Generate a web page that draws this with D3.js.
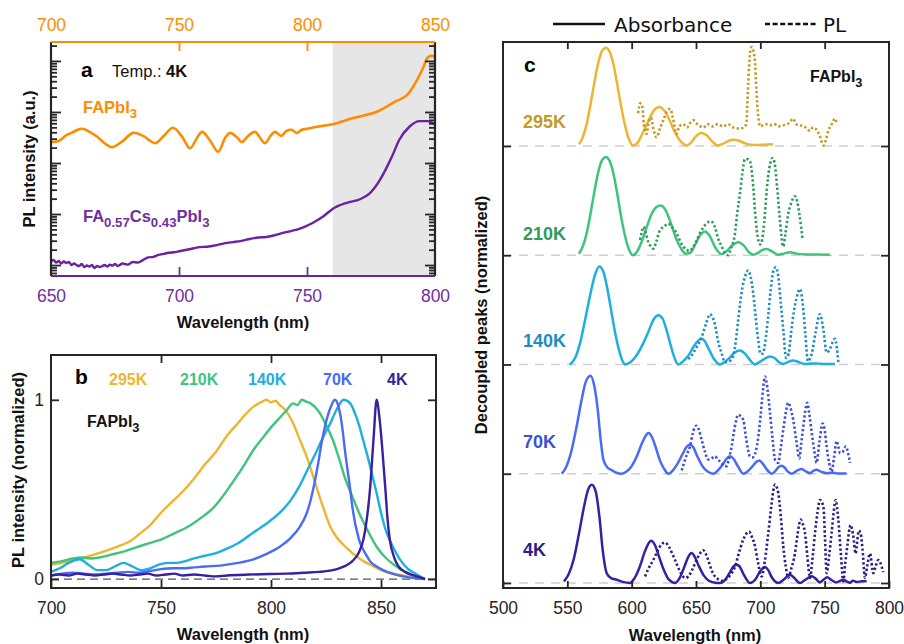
<!DOCTYPE html>
<html>
<head>
<meta charset="utf-8">
<script src="https://cdn.jsdelivr.net/npm/d3@7"></script>
<style>
body { margin: 0; background: #fff; }
svg { font-family: "Liberation Sans", Arial, sans-serif; }
</style>
</head>
<body>
<div id="main"></div>
<script>
// ---------- panel a : PL at 4K, log scale, [wavelength nm, intensity a.u.]
// FAPbI3 is plotted against the top axis (700-850 nm)
const faPL = [[700,257],[703,269],[706,350],[708,389],[712,468],[717,355],[722,224],[724,204],[728,269],[732,389],[736,339],
  [740.6,245],[744,339],[747.6,490],[751,339],[754.3,195],[757,309],[759,407],[762,282],[765.3,166],[768,309],[770,389],
  [772.5,324],[774.6,257],[777,339],[779.7,407],[782,295],[783.6,245],[786,355],[787.5,407],[790,339],[792,427],[794,447],
  [796,389],[798,447],[800,468],[804,513],[810,575],[818,759],[827,1000],[833.6,1514],[839,2138],[843,4266],[845.5,7586],
  [847,11482],[849,12589],[850,11482]];
// FA0.57Cs0.43PbI3 is plotted against the bottom axis (650-800 nm)
const facsPL = [[650,1.15],[651,1.26],[652,1.12],[653,1.2],[654,1.07],[655,1.17],[656,1.1],[657,1.15],[658,1],[659,1.07],
  [660,1],[661,0.955],[662,1.05],[663,0.912],[664,0.977],[665,0.933],[666,1],[667,0.871],[668,0.955],[669,0.912],[670,0.955],
  [671,1],[672,0.933],[673,1.02],[674,0.977],[675,1.05],[676,0.955],[678,1.07],[680,1.02],[682,1.15],[684,1.12],[686,1.26],
  [688,1.41],[690,1.45],[692,1.58],[694,1.66],[696,1.74],[698,1.78],[700,1.86],[702,1.95],[704,2.04],[708,2.24],[711,2.29],
  [714.8,2.45],[718,2.69],[721,2.82],[724,2.95],[727.7,3.24],[731,3.47],[734,3.55],[737,3.8],[740.6,4.27],[744,4.68],
  [747,5.13],[752,6.61],[756,8.71],[760,12.6],[765.6,16.6],[770.7,19.5],[774.6,25.7],[778.5,46.8],[781,79.4],[783.5,145],
  [786,282],[790,513],[794,661],[797,661],[800,575]];
const ticksAbottom = [650, 700, 750, 800];
const ticksAtop = [700, 750, 800, 850];

// ---------- panel b : normalized PL, [wavelength nm, intensity]
const plB295 = [[700,0.08],[705,0.09],[710,0.105],[715,0.12],[722,0.146],[730,0.18],[737,0.22],[740,0.25],[745,0.3],[750,0.37],
  [755,0.43],[760,0.49],[765,0.56],[770,0.64],[775,0.71],[780,0.8],[785,0.87],[790,0.94],[793,0.97],[796,0.99],[798,1.0],
  [800,0.985],[802,0.995],[804,0.97],[806,0.95],[810,0.87],[813,0.78],[816,0.69],[819,0.58],[821,0.5],[824,0.39],[827,0.29],
  [830,0.23],[833,0.19],[837,0.145],[842,0.1],[846,0.075],[850,0.05],[856,0.03],[862,0.015],[870,0]];
const plB210 = [[700,0.09],[705,0.1],[710,0.115],[714,0.12],[718,0.115],[722,0.12],[727,0.135],[732,0.15],[737,0.17],[742,0.19],
  [746,0.205],[750,0.22],[756,0.255],[762,0.29],[768,0.34],[774,0.4],[778,0.46],[782,0.53],[787,0.62],[792,0.72],[797,0.8],
  [801,0.86],[804,0.9],[807,0.94],[810,0.98],[812,0.97],[814,1.0],[816,0.99],[818,0.98],[822,0.93],[825,0.86],[828,0.78],
  [831,0.67],[834,0.55],[837,0.46],[840,0.37],[844,0.27],[848,0.18],[852,0.12],[857,0.07],[864,0.02],[870,0]];
const plB140 = [[700,0.04],[704,0.06],[708,0.09],[713,0.11],[717,0.08],[721,0.05],[725,0.05],[729,0.07],[733,0.09],[737,0.07],
  [741,0.05],[745,0.06],[749,0.08],[753,0.09],[757,0.09],[761,0.1],[765,0.115],[770,0.13],[775,0.145],[780,0.17],[785,0.2],
  [792,0.26],[798,0.31],[804,0.37],[809,0.44],[813,0.52],[817,0.62],[821,0.72],[824,0.8],[827,0.87],[830,0.95],[833,1.0],
  [836,0.98],[838,0.93],[840,0.86],[842,0.77],[844,0.68],[846,0.58],[848,0.48],[850,0.37],[852.5,0.26],[855,0.19],
  [858.6,0.11],[862,0.06],[865,0.035],[870,0]];
const plB70 = [[700,0.02],[705,0.03],[710,0.035],[715,0.03],[720,0.025],[725,0.03],[730,0.035],[735,0.04],[740,0.035],
  [745,0.045],[750,0.055],[755,0.06],[760,0.06],[765,0.065],[770,0.07],[777,0.075],[785,0.09],[792,0.11],[798,0.14],
  [804,0.18],[809,0.23],[813,0.29],[816,0.36],[818,0.44],[820,0.55],[821.5,0.65],[823,0.76],[824.5,0.85],[826,0.92],
  [827.5,0.97],[829,1.0],[830.5,0.97],[832,0.88],[834,0.68],[836,0.5],[837,0.4],[840,0.22],[843,0.14],[845,0.1],[848,0.07],
  [851,0.05],[855,0.03],[860,0.015],[870,0]];
const plB4 = [[700,0.02],[704,0.025],[708,0.02],[712,0.03],[716,0.025],[720,0.02],[724,0.025],[728,0.03],[732,0.025],
  [736,0.02],[740,0.025],[744,0.03],[748,0.02],[752,0.025],[756,0.03],[760,0.02],[765,0.025],[770,0.02],[775,0.015],
  [780,0.02],[790,0.025],[800,0.028],[807,0.03],[815,0.035],[822,0.04],[828,0.05],[831,0.06],[834,0.075],[837,0.1],
  [840,0.15],[842,0.22],[843.5,0.33],[845,0.5],[846.6,0.78],[848,1.0],[849.3,0.9],[850.5,0.74],[852,0.5],[853,0.33],
  [854,0.22],[856,0.12],[858,0.07],[861,0.04],[865,0.02],[870,0]];
const tempsB = ['295K', '210K', '140K', '70K', '4K'];
const ticksBx = [700, 750, 800, 850];
const ticksBy = [0, 1];

// ---------- panel c : decoupled peaks, [wavelength nm, height above own baseline]
const abs295 = [[559,0.015],[562,0.08],[565,0.2],[568,0.38],[571,0.58],[574,0.76],[577,0.87],[580,0.9],[583,0.86],[586,0.74],
  [589,0.55],[592,0.35],[595,0.18],[598,0.06],[601,0.005],[604,0.02],[607,0.08],[611,0.18],[615,0.28],[618,0.335],
  [621.5,0.357],[625,0.33],[629,0.25],[633,0.14],[637,0.06],[640,0.02],[643,0.005],[646,0.03],[650,0.09],[654,0.12],
  [658,0.1],[662,0.05],[667,0.005],[671,0.02],[675,0.045],[679,0.058],[683,0.05],[687,0.03],[691,0.015],[697,0.01],
  [703,0.012],[710,0.015]];
const pl295 = [[605,0.3],[606.5,0.39],[608,0.38],[609.5,0.2],[611.5,0.11],[613,0.2],[615,0.26],[617,0.15],[619.4,0.08],
  [622,0.16],[625,0.25],[627.5,0.32],[630,0.34],[632,0.26],[635,0.11],[637,0.18],[640,0.2],[643,0.17],[646,0.22],[648,0.235],
  [651,0.2],[655.7,0.17],[659,0.2],[663,0.18],[667,0.2],[671,0.18],[675,0.2],[679,0.17],[684,0.16],[687,0.17],[689,0.2],
  [690.6,0.57],[692,0.85],[693.2,0.906],[695.8,0.78],[697,0.5],[698.4,0.265],[700,0.18],[704,0.2],[707.5,0.19],[711,0.2],
  [714,0.18],[717.8,0.19],[721,0.2],[723,0.22],[725.6,0.25],[728,0.2],[730.8,0.19],[734,0.18],[738.5,0.14],[741,0.17],
  [743.7,0.15],[746,0.1],[749,0.005],[751,0.06],[752.8,0.14],[755,0.19],[758,0.25],[759.5,0.2]];
const abs210 = [[559,0.012],[562,0.08],[565,0.2],[568,0.38],[571,0.58],[574,0.76],[577,0.87],[580,0.9],[583,0.86],[586,0.74],
  [589,0.55],[592,0.34],[595,0.17],[598,0.05],[601,0],[604,0.03],[608,0.13],[612,0.27],[616,0.39],[619,0.44],[622.5,0.455],
  [626,0.42],[630,0.31],[634,0.17],[638,0.07],[642,0.015],[645.3,0.02],[649,0.09],[653,0.18],[657,0.217],[661,0.17],
  [665,0.07],[670,0.01],[674,0.04],[678,0.09],[683,0.12],[687,0.09],[691,0.03],[694.5,0.005],[698,0.02],[701,0.045],
  [705,0.058],[709,0.035],[714,0.005],[718,0.015],[723,0.027],[728,0.015],[735,0.008],[745,0.006],[754,0.005]];
const pl210 = [[606.5,0.14],[608,0.22],[609,0.26],[611,0.2],[613,0.12],[615,0.08],[617,0.06],[619,0.12],[622,0.23],[625,0.26],
  [628.5,0.29],[631,0.26],[635,0.2],[638,0.12],[642.7,0.05],[645.3,0.04],[648,0.08],[650,0.12],[653,0.2],[656,0.26],[659,0.3],
  [660.8,0.31],[663,0.3],[664.7,0.26],[667,0.16],[670,0.08],[672,0.03],[675,0],[677,0.06],[680.3,0.2],[682,0.38],[684.2,0.57],
  [686,0.75],[688,0.88],[690,0.88],[692,0.86],[693.5,0.75],[694.5,0.63],[696,0.38],[698.4,0.14],[700,0.1],[701.5,0.15],
  [703,0.3],[705,0.6],[707,0.8],[709.5,0.89],[711,0.85],[713,0.63],[715,0.35],[717.8,0.08],[719.5,0.2],[721.7,0.38],
  [724,0.48],[726.9,0.54],[728.5,0.5],[730.3,0.38],[732.9,0.14]];
const abs140 = [[552,0],[556,0.06],[560,0.2],[564,0.42],[568,0.65],[571,0.8],[574.8,0.897],[578,0.85],[581,0.7],[584,0.5],
  [587,0.3],[590,0.14],[593,0.03],[595,0],[599,0.02],[603,0.07],[608,0.17],[613,0.3],[617,0.41],[620.7,0.45],[624,0.42],
  [627,0.32],[630,0.19],[633,0.07],[636.2,0],[640,0.03],[644,0.08],[648,0.16],[651,0.21],[654.4,0.235],[657,0.21],[660,0.14],
  [664,0.05],[668.6,0],[672,0.02],[676,0.06],[680,0.11],[684.2,0.128],[688,0.1],[692,0.04],[695.8,0],[699,0.02],[703,0.05],
  [707.5,0.073],[711,0.06],[714,0.025],[717.8,0.005],[721,0.02],[725.6,0.037],[729,0.025],[734.7,0.005],[740,0.01],
  [745,0.008],[750,0.005],[758,0.005]];
const pl140 = [[644,0.05],[647,0.09],[650,0.15],[654.4,0.25],[658,0.38],[660.8,0.46],[662.5,0.44],[664.7,0.37],[667,0.22],
  [670,0.1],[672.5,0.02],[676,0.03],[679,0.08],[681,0.22],[683,0.43],[686,0.7],[688,0.8],[690.5,0.86],[692.5,0.8],[694.5,0.65],
  [696.5,0.42],[698.4,0.22],[700,0.1],[702,0.1],[704,0.22],[706,0.43],[708,0.68],[710,0.85],[712,0.89],[714,0.8],[716,0.55],
  [718,0.3],[720,0.06],[722,0.1],[724,0.3],[726,0.48],[728,0.6],[730.8,0.69],[733,0.55],[735,0.28],[737,0.03],[740,0.1],
  [743,0.3],[746.3,0.46],[749,0.32],[751.5,0.11],[754,0.14],[756,0.2],[758,0.235],[759.5,0.15],[760.6,0.02]];
const abs70 = [[545.6,0],[549,0.06],[553,0.2],[557,0.42],[561,0.67],[564,0.83],[568,0.897],[571,0.8],[573.5,0.6],[576,0.3],
  [578,0.13],[581,0.06],[585,0.03],[588,0.01],[592.2,0],[596,0.02],[600,0.07],[604,0.16],[608,0.28],[610.5,0.34],[613,0.372],
  [616,0.33],[619,0.23],[622,0.12],[625,0.05],[628.5,0],[632,0.03],[636,0.1],[640,0.19],[643,0.25],[645.3,0.265],[648,0.24],
  [651,0.16],[655,0.07],[659,0.02],[663.4,0],[667,0.03],[671,0.09],[674,0.14],[676.4,0.16],[679,0.14],[682,0.08],[686.8,0],
  [690,0.02],[694,0.07],[697,0.11],[699.2,0.122],[702,0.09],[705,0.04],[708.8,0],[712,0.03],[714,0.06],[716.5,0.073],
  [719,0.055],[721,0.025],[724.3,0],[728,0.025],[732,0.043],[735,0.025],[738.6,0.005],[741,0.025],[743.7,0.037],[747,0.02],
  [751.5,0.005],[755,0.01],[760,0.003],[767,0.003]];
const pl70 = [[638.9,0.03],[640.2,0.08],[643,0.18],[645.3,0.25],[647.5,0.37],[649.2,0.43],[650.5,0.44],[652,0.41],[654.4,0.31],
  [657,0.2],[659.5,0.13],[662,0.14],[664.7,0.16],[667,0.13],[669.9,0.1],[672,0.07],[673.8,0.07],[675.5,0.13],[677.7,0.25],
  [680,0.42],[682.9,0.54],[684.5,0.53],[686.8,0.49],[689,0.32],[691.9,0.16],[694,0.15],[695.8,0.18],[698,0.3],[700.2,0.53],
  [702,0.76],[703.6,0.89],[705.5,0.78],[707.5,0.56],[709.5,0.32],[711.4,0.13],[714,0.1],[716,0.25],[717.8,0.4],[719.8,0.56],
  [721.7,0.65],[723.5,0.6],[725.6,0.49],[728,0.3],[730.3,0.14],[731.8,0.28],[733.4,0.43],[735,0.58],[736.5,0.65],[738,0.55],
  [739.9,0.38],[741.8,0.22],[743.7,0.1],[746,0.3],[748.4,0.46],[750,0.4],[751.5,0.25],[753.5,0.1],[755.4,0.02],[757.3,0.15],
  [759.3,0.3],[760.6,0.25],[761.9,0.19],[764,0.2],[766.5,0.25],[768,0.2],[769.7,0.1]];
const abs4 = [[547.4,0.015],[551,0.08],[555,0.22],[559,0.45],[563,0.7],[566,0.85],[569,0.9],[572,0.84],[575,0.6],[577.5,0.3],
  [580.6,0.09],[584,0.045],[588.3,0.03],[593,0.01],[598.7,0],[602,0.04],[606,0.14],[610,0.28],[613,0.36],[615,0.387],
  [618,0.35],[621,0.25],[625,0.12],[629,0.03],[633.7,0],[637,0.04],[641,0.15],[644,0.24],[646.6,0.275],[649,0.24],[652,0.16],
  [656,0.07],[660,0.02],[664,0.005],[668.6,0],[672,0.02],[676,0.09],[679,0.15],[681.6,0.168],[684,0.15],[687,0.08],[692,0],
  [696,0.03],[700,0.11],[703.6,0.146],[706,0.12],[709,0.05],[714,0],[718,0.03],[723,0.076],[726,0.05],[730.8,0],[735,0.03],
  [739.9,0.061],[743,0.04],[746.3,0.005],[749,0.03],[752,0.052],[755,0.03],[759.3,0.005],[762,0.02],[764.5,0.03],[767,0.015],
  [769.7,0.003],[772,0.02],[775,0.01],[779,0.015],[782.6,0.015]];
const pl4 = [[610.4,0.06],[613,0.13],[616.8,0.21],[620,0.29],[623,0.35],[625.9,0.37],[629,0.33],[631.5,0.27],[633.7,0.21],
  [637,0.12],[641.5,0.046],[644,0.06],[647,0.12],[650,0.2],[653,0.27],[655.7,0.3],[657.5,0.27],[659.5,0.21],[662,0.12],
  [664.7,0.06],[668,0.03],[671,0.02],[674,0.04],[677,0.08],[680.3,0.15],[683,0.26],[686.8,0.4],[689,0.45],[691.4,0.47],
  [693.5,0.42],[695.8,0.34],[698,0.2],[701,0.06],[703.5,0.2],[706.2,0.46],[708.5,0.7],[710,0.84],[711.4,0.9],[712.7,0.88],
  [714,0.82],[716,0.6],[717.8,0.34],[719.8,0.15],[721.7,0.046],[724,0.13],[726.9,0.27],[729,0.45],[731.3,0.58],[733,0.54],
  [734.7,0.46],[736.5,0.25],[738.6,0.046],[740.5,0.22],[742.5,0.46],[744.5,0.65],[746.3,0.76],[749,0.7],[750.3,0.4],
  [751.5,0.09],[753.5,0.25],[755.4,0.46],[757,0.65],[758.5,0.76],[760.6,0.58],[762.5,0.28],[764.5,0.015],[766,0.18],
  [767.6,0.34],[770.1,0.53],[772,0.45],[774.1,0.27],[775,0.35],[776.5,0.48],[778,0.45],[779.5,0.3],[781.3,0.046],[783,0.15],
  [785.2,0.27],[787.8,0.09],[789.5,0.15],[791.7,0.21],[794.3,0.15],[795.5,0.1]];
const tempsC = ['4K', '70K', '140K', '210K', '295K'];   // bottom to top
const ticksCx = [500, 550, 600, 650, 700, 750, 800];

// ---------- colours
const colB = {'295K': '#EDB532', '210K': '#3EC47C', '140K': '#1EAEE0', '70K': '#4A6AF7', '4K': '#3A1FA0'};
const colPL = {'295K': '#C59A22', '210K': '#2F9A5C', '140K': '#1D8DC0', '70K': '#3A50D5', '4K': '#2E1C86'};
const orange = '#FF8C00', purple = '#6B21A0', axisCol = '#262626';

const svg = d3.select('#main').append('svg').attr('width', 904).attr('height', 644);

function styleAxis(g, color, size) {
  g.select('.domain').remove();
  g.selectAll('.tick line').attr('stroke', color).attr('stroke-width', 1.8);
  g.selectAll('.tick text').attr('fill', color).attr('font-size', size)
    .attr('font-family', '"Liberation Sans", Arial, sans-serif');
}

// bold label with subscripts; parts = [[text, isSub], ...]
function chem(x, y, parts, size, color) {
  const t = svg.append('text').attr('x', x).attr('y', y).attr('font-size', size)
    .attr('font-weight', 'bold').attr('fill', color);
  let prev = 0;
  parts.forEach(p => {
    const off = p[1] ? size * 0.32 : 0;
    t.append('tspan').attr('dy', off - prev).attr('font-size', p[1] ? size * 0.8 : size).text(p[0]);
    prev = off;
  });
  return t;
}

function frame(x0, y0, x1, y1, color) {
  svg.append('rect').attr('x', x0).attr('y', y0).attr('width', x1 - x0).attr('height', y1 - y0)
    .attr('fill', 'none').attr('stroke', color).attr('stroke-width', 2);
}

// =================== panel a ===================
const xA = d3.scaleLinear().domain([650, 800]).range([51, 435]);
const xAtop = d3.scaleLinear().domain([700, 850]).range([51, 435]);
const yA = d3.scaleLog().domain([0.61, 23500]).range([276, 42]);

svg.append('rect').attr('x', xA(760)).attr('y', 42).attr('width', xA(800) - xA(760)).attr('height', 234).attr('fill', '#E6E6E6');

svg.append('path').datum(faPL).attr('fill', 'none').attr('stroke', orange).attr('stroke-width', 2.6)
  .attr('d', d3.line().x(d => xAtop(d[0])).y(d => yA(d[1])).curve(d3.curveCatmullRom));
svg.append('path').datum(facsPL).attr('fill', 'none').attr('stroke', purple).attr('stroke-width', 2.4)
  .attr('d', d3.line().x(d => xA(d[0])).y(d => yA(d[1])).curve(d3.curveMonotoneX));

const logTicks = yA.ticks();
const decades = logTicks.filter(v => Math.abs(Math.log10(v) - Math.round(Math.log10(v))) < 1e-9);
const minors = logTicks.filter(v => !decades.includes(v));
[[decades, 10], [minors, 6]].forEach(([vals, len]) => {
  styleAxis(svg.append('g').attr('transform', 'translate(51,0)')
    .call(d3.axisLeft(yA).tickValues(vals).tickSize(-len).tickFormat('')), axisCol);
  styleAxis(svg.append('g').attr('transform', 'translate(435,0)')
    .call(d3.axisRight(yA).tickValues(vals).tickSize(-len).tickFormat('')), axisCol);
});
svg.append('line').attr('x1', 51).attr('x2', 51).attr('y1', 42).attr('y2', 276).attr('stroke', axisCol).attr('stroke-width', 2.2);
svg.append('line').attr('x1', 435).attr('x2', 435).attr('y1', 42).attr('y2', 276).attr('stroke', axisCol).attr('stroke-width', 2.2);

const axATop = svg.append('g').attr('transform', 'translate(0,42)')
  .call(d3.axisTop(xAtop).tickValues(ticksAtop).tickSize(-9).tickPadding(11));
styleAxis(axATop, orange, 17.5);
axATop.selectAll('.tick line').filter(d => d === 700 || d === 850).remove();
svg.append('line').attr('x1', 51).attr('x2', 435).attr('y1', 42).attr('y2', 42).attr('stroke', orange).attr('stroke-width', 2.2);

const axABot = svg.append('g').attr('transform', 'translate(0,276)')
  .call(d3.axisBottom(xA).tickValues(ticksAbottom).tickSize(-9).tickPadding(14));
styleAxis(axABot, '#7030A0', 17.5);
axABot.selectAll('.tick line').filter(d => d === 650 || d === 800).remove();
svg.append('line').attr('x1', 51).attr('x2', 435).attr('y1', 276).attr('y2', 276).attr('stroke', purple).attr('stroke-width', 2.2);

svg.append('text').attr('x', 81).attr('y', 77).attr('font-size', 21).attr('font-weight', 'bold').text('a');
const tmp = svg.append('text').attr('x', 112).attr('y', 77).attr('font-size', 16.5).attr('fill', '#111');
tmp.append('tspan').text('Temp.: ');
tmp.append('tspan').attr('font-weight', 'bold').text('4K');
chem(83, 113, [['FAPbI', false], ['3', true]], 16.5, orange);
chem(83, 222, [['FA', false], ['0.57', true], ['Cs', false], ['0.43', true], ['PbI', false], ['3', true]], 16.5, '#7030A0');

svg.append('text').attr('x', 243).attr('y', 328).attr('text-anchor', 'middle').attr('font-size', 16.5)
  .attr('font-weight', 'bold').attr('fill', '#111').text('Wavelength (nm)');
svg.append('text').attr('transform', 'translate(35,159) rotate(-90)').attr('text-anchor', 'middle')
  .attr('font-size', 16.5).attr('font-weight', 'bold').attr('fill', '#111').text('PL intensity (a.u.)');

// =================== panel b ===================
const xB = d3.scaleLinear().domain([700, 875]).range([51, 436]);
const yB = d3.scaleLinear().domain([-0.05, 1.25]).range([588, 355]);

svg.append('line').attr('x1', 51).attr('x2', 436).attr('y1', yB(0)).attr('y2', yB(0))
  .attr('stroke', '#555').attr('stroke-width', 1.3).attr('stroke-dasharray', '8,5');

const lineB = d3.line().x(d => xB(d[0])).y(d => yB(d[1])).curve(d3.curveMonotoneX);
const seriesB = {'295K': plB295, '210K': plB210, '140K': plB140, '70K': plB70, '4K': plB4};
tempsB.forEach(t => {
  svg.append('path').datum(seriesB[t]).attr('fill', 'none').attr('stroke', colB[t]).attr('stroke-width', 2.4)
    .attr('stroke-linejoin', 'round').attr('d', lineB);
});

styleAxis(svg.append('g').attr('transform', 'translate(0,588)')
  .call(d3.axisBottom(xB).tickValues(ticksBx).tickSize(-8).tickPadding(14)), axisCol, 17.5);
styleAxis(svg.append('g').attr('transform', 'translate(0,355)')
  .call(d3.axisTop(xB).tickValues(ticksBx.slice(1)).tickSize(-8).tickFormat('')), axisCol);
styleAxis(svg.append('g').attr('transform', 'translate(51,0)')
  .call(d3.axisLeft(yB).tickValues(ticksBy).tickSize(-8).tickPadding(7).tickFormat(d3.format('d'))), axisCol, 17.5);
styleAxis(svg.append('g').attr('transform', 'translate(436,0)')
  .call(d3.axisRight(yB).tickValues(ticksBy).tickSize(-8).tickFormat('')), axisCol);
frame(51, 355, 436, 588, axisCol);

svg.append('text').attr('x', 75).attr('y', 384).attr('font-size', 21).attr('font-weight', 'bold').text('b');
const labelXB = [109, 180, 248, 323, 387];
tempsB.forEach((t, i) => {
  svg.append('text').attr('x', labelXB[i]).attr('y', 385).attr('font-size', 16).attr('font-weight', 'bold')
    .attr('fill', colB[t]).text(t);
});
chem(87, 427, [['FAPbI', false], ['3', true]], 16, '#111');

svg.append('text').attr('x', 243).attr('y', 640).attr('text-anchor', 'middle').attr('font-size', 16.5)
  .attr('font-weight', 'bold').attr('fill', '#111').text('Wavelength (nm)');
svg.append('text').attr('transform', 'translate(24,470) rotate(-90)').attr('text-anchor', 'middle')
  .attr('font-size', 16.5).attr('font-weight', 'bold').attr('fill', '#111').text('PL intensity (normalized)');

// =================== panel c ===================
const xC = d3.scaleLinear().domain([500, 800]).range([503, 889]);
const yC = d3.scaleLinear().domain([-0.0458, 4.952]).range([588, 42]);
const absC = {'4K': abs4, '70K': abs70, '140K': abs140, '210K': abs210, '295K': abs295};
const plC = {'4K': pl4, '70K': pl70, '140K': pl140, '210K': pl210, '295K': pl295};
const labelYC = [556, 448, 347, 240, 128];

tempsC.forEach((t, i) => {
  svg.append('line').attr('x1', 503).attr('x2', 889).attr('y1', yC(i)).attr('y2', yC(i))
    .attr('stroke', '#CFCFCF').attr('stroke-width', 1.5).attr('stroke-dasharray', '9,7');
});
tempsC.forEach((t, i) => {
  const ln = d3.line().x(d => xC(d[0])).y(d => yC(i + d[1])).curve(d3.curveMonotoneX);
  svg.append('path').datum(absC[t]).attr('fill', 'none').attr('stroke', colB[t]).attr('stroke-width', 2.5).attr('d', ln);
  svg.append('path').datum(plC[t]).attr('fill', 'none').attr('stroke', colPL[t]).attr('stroke-width', 2.6)
    .attr('stroke-dasharray', '2.3,2.3').attr('d', ln);
  svg.append('text').attr('x', 523).attr('y', labelYC[i]).attr('font-size', 18).attr('font-weight', 'bold')
    .attr('fill', t === '295K' ? '#C49A26' : colPL[t]).text(t);
});

const baseTicks = tempsC.map((t, i) => i);
styleAxis(svg.append('g').attr('transform', 'translate(0,588)')
  .call(d3.axisBottom(xC).tickValues(ticksCx).tickSize(-7).tickPadding(14)), axisCol, 17.5);
styleAxis(svg.append('g').attr('transform', 'translate(0,42)')
  .call(d3.axisTop(xC).tickValues(ticksCx.slice(1, -1)).tickSize(-7).tickFormat('')), axisCol);
styleAxis(svg.append('g').attr('transform', 'translate(503,0)')
  .call(d3.axisLeft(yC).tickValues(baseTicks).tickSize(-8).tickFormat('')), axisCol);
styleAxis(svg.append('g').attr('transform', 'translate(889,0)')
  .call(d3.axisRight(yC).tickValues(baseTicks).tickSize(-8).tickFormat('')), axisCol);
frame(503, 42, 889, 588, axisCol);

svg.append('text').attr('x', 524).attr('y', 72).attr('font-size', 21).attr('font-weight', 'bold').text('c');
chem(810, 82, [['FAPbI', false], ['3', true]], 16, '#111');

// legend
svg.append('line').attr('x1', 553).attr('x2', 605).attr('y1', 24).attr('y2', 24).attr('stroke', '#111').attr('stroke-width', 2.6);
svg.append('text').attr('x', 614).attr('y', 32).attr('font-size', 20).attr('font-family', '"DejaVu Sans", sans-serif')
  .attr('fill', '#111').text('Absorbance');
svg.append('line').attr('x1', 765).attr('x2', 818).attr('y1', 24).attr('y2', 24).attr('stroke', '#111').attr('stroke-width', 2.6)
  .attr('stroke-dasharray', '5,2.6');
svg.append('text').attr('x', 823).attr('y', 32).attr('font-size', 20).attr('font-family', '"DejaVu Sans", sans-serif')
  .attr('fill', '#111').text('PL');

svg.append('text').attr('x', 695).attr('y', 641).attr('text-anchor', 'middle').attr('font-size', 16.5)
  .attr('font-weight', 'bold').attr('fill', '#111').text('Wavelength (nm)');
svg.append('text').attr('transform', 'translate(487,315) rotate(-90)').attr('text-anchor', 'middle')
  .attr('font-size', 16.5).attr('font-weight', 'bold').attr('fill', '#111').text('Decoupled peaks (normalized)');
</script>
</body>
</html>
